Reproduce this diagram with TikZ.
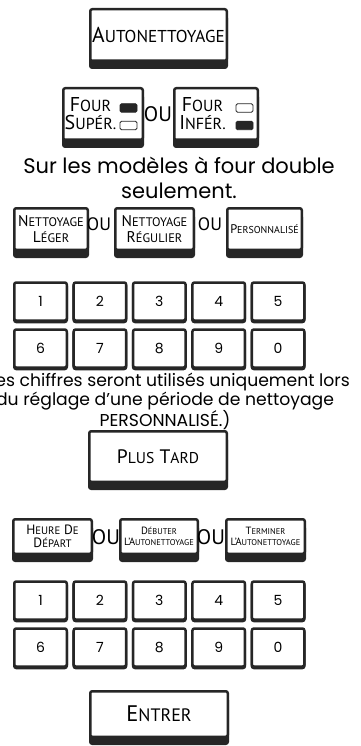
\documentclass[tikz,border=0pt]{standalone}
\usepackage{fontspec}
\usepackage{graphicx}
\usepackage{tikz}
\usetikzlibrary{positioning}
\setmainfont{Poppins}
\newfontfamily\keyfont{PT Sans}
\definecolor{keyframe}{RGB}{38,38,38}
% fake small caps: big first letter, scaled rest
\newcommand{\fsc}[2]{#1\scalebox{0.8}{#2}}

\begin{document}
\begin{tikzpicture}[x=1pt,y=-1pt,
  every node/.style={inner sep=0pt},
  btn/.style={draw=keyframe,fill=white,line width=2.5pt,rounded corners=2pt,align=center,
    preaction={draw=keyframe,fill=keyframe,line width=2.5pt,transform canvas={yshift=-#1}}},
  btn/.default=7pt,
  numkey/.style={btn=1.5pt,minimum width=52.5pt,minimum height=38pt,font=\fontsize{14}{14}\selectfont},
  lamp/.style={draw=keyframe,line width=0.9pt,rounded corners=1.5pt,minimum width=17pt,minimum height=8.5pt},
  ou/.style={font=\keyfont\fontsize{21}{21}\selectfont},
  note/.style={align=center}]
\useasboundingbox (0,0) rectangle (360,746);

\node[btn,minimum width=136.5pt,minimum height=51.5pt,font=\keyfont\fontsize{21.5}{22}\selectfont] (autoclean) at (158.5,35) {\fsc{A}{UTONETTOYAGE}};

\node[btn,minimum width=79.5pt,minimum height=51.5pt,font=\keyfont\fontsize{20}{18}\selectfont] (upper) at (103,114) {\fsc{F}{OUR}\hspace*{25pt}\\\fsc{S}{UPÉR.}\hspace*{25pt}};
\node[lamp,fill=keyframe] (upper-on) at (128.5,108) {};
\node[lamp] (upper-off) at (128.5,125.5) {};
\node[ou] (or-oven) at (158,114) {OU};
\node[btn,minimum width=83.5pt,minimum height=51.5pt,font=\keyfont\fontsize{20}{18}\selectfont] (lower) at (216,114) {\fsc{F}{OUR}\hspace*{27pt}\\\fsc{I}{NFÉR.}\hspace*{27pt}};
\node[lamp] (lower-off) at (244.5,108) {};
\node[lamp,fill=keyframe] (lower-on) at (244.5,125.5) {};

\node[note,font=\fontsize{21}{25}\selectfont] (double) at (179,178) {Sur les modèles à four double\\seulement.};

\node[btn,minimum width=73.5pt,minimum height=41.5pt,font=\keyfont\fontsize{15.5}{16}\selectfont] (light) at (51,229) {\fsc{N}{ETTOYAGE}\\\fsc{L}{ÉGER}};
\node[ou,font=\keyfont\fontsize{18}{18}\selectfont] (or-light) at (99,224) {OU};
\node[btn,minimum width=78.5pt,minimum height=41.5pt,font=\keyfont\fontsize{15.5}{16}\selectfont] (regular) at (154.5,229) {\fsc{N}{ETTOYAGE}\\\fsc{R}{ÉGULIER}};
\node[ou,font=\keyfont\fontsize{18}{18}\selectfont] (or-regular) at (210,224) {OU};
\node[btn,minimum width=74.5pt,minimum height=41.5pt,font=\keyfont\fontsize{12.5}{12}\selectfont] (custom) at (264.5,229) {\fsc{P}{ERSONNALISÉ}};

\foreach \top/\bot [count=\c from 0] in {1/6,2/7,3/8,4/9,5/0}{
  \node[numkey] (a\top) at ({40.5+59.4*\c},301.5) {\top};
  \node[numkey] (a\bot) at ({40.5+59.4*\c},348.5) {\bot};
}

\node[note,font=\fontsize{17.2}{17.5}\selectfont] (digits-note) at (165,400) {(Les chiffres seront utilisés uniquement lors\\du réglage d’une période de nettoyage\\PERSONNALISÉ.)};

\node[btn,minimum width=137.5pt,minimum height=50.5pt,font=\keyfont\fontsize{19.5}{19}\selectfont] (delay) at (158,456.5) {\fsc{P}{LUS} \fsc{T}{ARD}};

\node[btn,minimum width=78.5pt,minimum height=34.5pt,font=\keyfont\fontsize{13.5}{13}\selectfont] (start-time) at (52.5,536.5) {\fsc{H}{EURE} \fsc{D}{E}\\\fsc{D}{ÉPART}};
\node[ou] (or-start) at (106,537) {OU};
\node[btn,minimum width=77.5pt,minimum height=34.5pt,font=\keyfont\fontsize{10.5}{11}\selectfont] (begin) at (159,536.5) {\fsc{D}{ÉBUTER}\\\fsc{L’A}{UTONETTOYAGE}};
\node[ou] (or-begin) at (211,537) {OU};
\node[btn,minimum width=78.5pt,minimum height=34.5pt,font=\keyfont\fontsize{10.5}{11}\selectfont] (finish) at (265.5,536.5) {\fsc{T}{ERMINER}\\\fsc{L’A}{UTONETTOYAGE}};

\foreach \top/\bot [count=\c from 0] in {1/6,2/7,3/8,4/9,5/0}{
  \node[numkey] (b\top) at ({40.5+59.4*\c},600.5) {\top};
  \node[numkey] (b\bot) at ({40.5+59.4*\c},647.5) {\bot};
}

\node[btn,minimum width=137.5pt,minimum height=45.5pt,font=\keyfont\fontsize{22.5}{22}\selectfont] (enter) at (159,714) {\fsc{E}{NTRER}};
\end{tikzpicture}
\end{document}
